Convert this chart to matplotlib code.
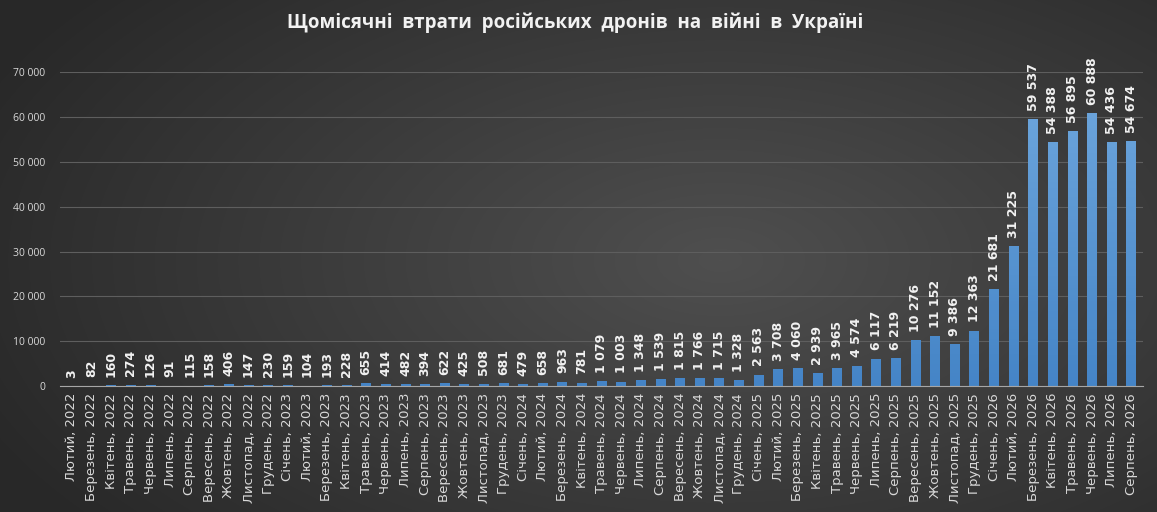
import numpy as np
import matplotlib
matplotlib.use('Agg')
import matplotlib.pyplot as plt
from matplotlib.ticker import FuncFormatter

plt.rcParams['font.family'] = ['DejaVu Sans']

months = ['Лютий', 'Березень', 'Квітень', 'Травень', 'Червень', 'Липень', 'Серпень',
          'Вересень', 'Жовтень', 'Листопад', 'Грудень', 'Січень']

# labels: Feb 2022 .. Aug 2026
labels = []
for i in range(55):
    y = 2022 + (i + 1) // 12
    labels.append(months[i % 12] + ', ' + str(y))

values = [3, 82, 160, 274, 126, 91, 115, 158, 406, 147, 230,
          159, 104, 193, 228, 655, 414, 482, 394, 622, 425, 508, 681,
          479, 658, 963, 781, 1079, 1003, 1348, 1539, 1815, 1766, 1715, 1328,
          2563, 3708, 4060, 2939, 3965, 4574, 6117, 6219, 10276, 11152, 9386, 12363,
          21681, 31225, 59537, 54388, 56895, 60888, 54436, 54674]

title = 'Щомісячні  втрати  російських  дронів  на  війні  в  Україні'


def fmt(v):
    return '{:,}'.format(int(v)).replace(',', ' ')


fig = plt.figure(figsize=(11.57, 5.12), dpi=100)

# radial gradient background
bg = fig.add_axes([0, 0, 1, 1], zorder=0)
yy, xx = np.mgrid[0:512, 0:1157]
r = np.sqrt(((xx - 720) / 800.0) ** 2 + ((yy - 260) / 420.0) ** 2)
r = np.clip(r, 0, 1)
c = 0.31 - 0.15 * r
img = np.dstack([c, c, c])
bg.imshow(img, aspect='auto', extent=[0, 1, 0, 1])
bg.axis('off')

ax = fig.add_axes([0.052, 0.246, 0.936, 0.613], zorder=1)
ax.patch.set_alpha(0)

index = np.arange(len(values))
bars = ax.bar(index, values, 0.5, color='#5b9bd5', zorder=3)

# vertical gradient on the bars
grad = np.linspace(0, 1, 100).reshape(-1, 1)
top = np.array([0.44, 0.66, 0.87])
bot = np.array([0.27, 0.52, 0.78])
gimg = bot + (top - bot) * grad[:, :, None]
for b in bars:
    x0, w, h = b.get_x(), b.get_width(), b.get_height()
    im = ax.imshow(gimg, extent=[x0, x0 + w, 0, 70000], origin='lower',
                   aspect='auto', zorder=3)
    im.set_clip_path(b)

for i, v in enumerate(values):
    ax.annotate(fmt(v), (i, v), xytext=(0, 6), textcoords='offset points',
                ha='center', va='bottom', rotation=90, fontsize=9,
                fontweight='bold', color='#f2f2f2', zorder=4)

ax.set_xlim(-0.6, len(values) - 0.4)
ax.set_ylim(0, 70000)
ax.set_yticks(np.arange(0, 70001, 10000))
ax.yaxis.set_major_formatter(FuncFormatter(lambda v, p: fmt(v)))
ax.set_xticks(index)
ax.set_xticklabels(labels, rotation=90, fontsize=9.5, color='#d9d9d9')
for t in ax.get_yticklabels():
    t.set_family('Open Sans')
ax.tick_params(axis='y', colors='#d9d9d9', labelsize=7.5, length=0, pad=11)
ax.tick_params(axis='x', length=0, pad=5)

ax.grid(axis='y', color='#5e5e5e', linewidth=0.8, zorder=0)
for s in ['top', 'right', 'left']:
    ax.spines[s].set_visible(False)
ax.spines['bottom'].set_color('#a6a6a6')
ax.spines['bottom'].set_zorder(5)

fig.text(0.497, 0.955, title, ha='center', va='center', fontsize=13.5,
         fontweight='bold', color='#f2f2f2', family='Open Sans')

fig.savefig('out.png', dpi=100)
